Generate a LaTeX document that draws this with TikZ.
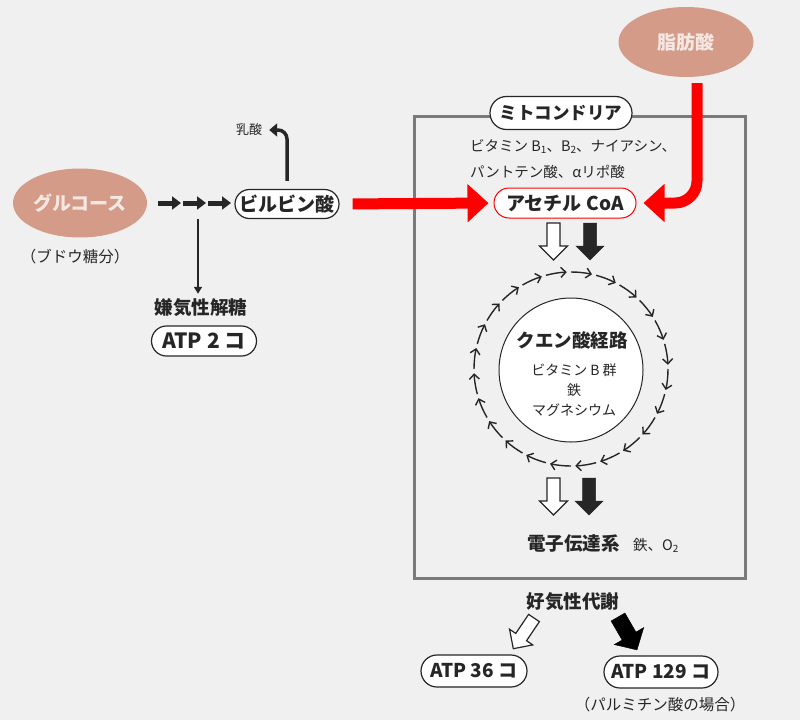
\documentclass[tikz,border=0pt]{standalone}
\usepackage{fontspec}
\setmainfont{Noto Sans CJK JP}
\usetikzlibrary{arrows.meta,shapes.geometric,shapes.misc,calc}
\definecolor{bg}{HTML}{F0F0F0}
\definecolor{salmon}{HTML}{D49B89}
\definecolor{blobtext}{HTML}{F5E8E2}
\definecolor{dark}{HTML}{262626}
\definecolor{boxgray}{HTML}{7A7A7A}
\definecolor{ared}{HTML}{FF0000}
\tikzset{
  small/.style={font=\fontsize{14.5}{16}\selectfont, text=dark, inner sep=0pt},
  boldtxt/.style={font=\bfseries\fontsize{18.5}{20}\selectfont, text=dark, inner sep=0pt},
  blob/.style={ellipse, fill=salmon, text=blobtext, font=\bfseries\fontsize{19}{21}\selectfont, inner sep=0pt},
  pill/.style={rounded rectangle, draw=dark, line width=1.2pt, fill=white, text=dark,
    font=\bfseries\fontsize{18}{20}\selectfont, inner sep=0pt},
  chainarr/.style={draw=dark, line width=5pt, -{Triangle[length=9pt,width=13pt]}},
  thinarr/.style={draw=dark, line width=1.8pt, -{Triangle[length=7pt,width=8pt]}},
  lacarr/.style={draw=dark, line width=3.5pt, -{Triangle[length=8pt,width=13pt]}},
  redarr/.style={draw=ared, line width=11pt, -{Triangle[length=21pt,width=37pt]}},
  cycarr/.style={draw=dark, line width=1.4pt, -{Straight Barb[length=5pt,width=10pt]}},
  blockarrow/.pic={\path[pic actions] (-6.5,0)--(6.5,0)--(6.5,23)--(14,23)--(0,37)--(-14,23)--(-6.5,23)--cycle;},
  bigblockarrow/.pic={\path[pic actions] (-8,0)--(8,0)--(8,22)--(17,22)--(0,38)--(-17,22)--(-8,22)--cycle;},
  whiteblk/.style={draw=dark, fill=white, line width=1.2pt},
  blackblk/.style={draw=dark, fill=dark, line width=0.5pt},
}
\begin{document}
\begin{tikzpicture}[x=1pt,y=-1pt]
\fill[bg] (0,0) rectangle (800,720);
\useasboundingbox (0,0) rectangle (800,720);

% left part
\node[blob, minimum width=134pt, minimum height=69pt] (glu) at (80,203) {グルコース};
\node[small, font=\fontsize{15.5}{17}\selectfont] (glusub) at (75,257) {（ブドウ糖分）};
\node[pill, minimum width=104pt, minimum height=29pt, font=\bfseries\fontsize{19}{21}\selectfont] (pyr) at (287,204) {ビルビン酸};
\node[boldtxt] (anaer) at (201,308) {嫌気性解糖};
\node[pill, minimum width=105pt, minimum height=30pt, font=\bfseries\fontsize{21}{23}\selectfont] (atp2) at (204,341) {ATP 2 コ};
\node[small, font=\fontsize{13}{15}\selectfont] (lac) at (249,130) {乳酸};

\coordinate (a1s) at (158,203); \coordinate (a1e) at (181,203);
\coordinate (a2s) at (183,203); \coordinate (a2e) at (206,203);
\coordinate (a3s) at (208,203); \coordinate (a3e) at (231,203);
\draw[chainarr] (a1s) -- (a1e);
\draw[chainarr] (a2s) -- (a2e);
\draw[chainarr] (a3s) -- (a3e);
\coordinate (dtop) at (198,219);
\draw[thinarr, shorten >=5pt] (dtop) -- (dtop |- anaer.north);
\draw[lacarr, rounded corners=9pt, shorten <=8pt, shorten >=7pt] (pyr.north) |- (lac.east);

% fatty acid
\node[blob, minimum width=135pt, minimum height=70pt, font=\bfseries\fontsize{19}{21}\selectfont] (fa) at (686,42) {脂肪酸};

% mitochondria
\node[draw=boxgray, line width=3pt, minimum width=331pt, minimum height=462pt, inner sep=0pt] (mito) at (579.5,347) {};
\node[pill, minimum width=142pt, minimum height=33pt, font=\bfseries\fontsize{17.5}{20}\selectfont] (mitol) at (561,113) {ミトコンドリア};
\node[small, anchor=west] (vit) at (470,147) {ビタミン B\raisebox{-2pt}{\fontsize{10}{10}\selectfont 1}、B\raisebox{-2pt}{\fontsize{10}{10}\selectfont 2}、ナイアシン、};
\node[small, anchor=west] (vit2) at (470,172) {パントテン酸、αリポ酸};
\node[pill, draw=ared, line width=1pt, minimum width=142pt, minimum height=30pt, font=\bfseries\fontsize{19}{21}\selectfont] (acoa) at (565,203) {アセチル CoA};

\draw[redarr, shorten <=13pt, shorten >=5pt] (pyr.east) -- (acoa.west);
\coordinate (fastart) at (697,83);
\draw[redarr, rounded corners=22pt, shorten >=7pt] (fastart) |- (acoa.east);

\pic[whiteblk] at (553.5,223) {blockarrow};
\pic[blackblk] at (590,223) {blockarrow};

% citric acid cycle
\coordinate (cc) at (571,369);
\node[circle, draw=dark, fill=white, line width=1pt, minimum size=144pt, inner sep=0pt] (tca) at (571,370) {};
\foreach \i in {0,...,23} {
  \draw[cycarr] ($(cc)+({-90+15*\i}:97)$) arc[start angle={-90+15*\i}, end angle={-90+15*\i+12.5}, radius=97];
}
\node[boldtxt] (tcat) at (572,340) {クエン酸経路};
\node[small, align=center, font=\fontsize{14}{20}\selectfont] (tcav) at (574,390) {ビタミン B 群\\鉄\\マグネシウム};

\pic[whiteblk] at (553.5,478) {blockarrow};
\pic[blackblk] at (589,478) {blockarrow};

\node[boldtxt, anchor=west] (etc) at (527,543) {電子伝達系};
\node[small, anchor=west] (etcv) at (633,545) {鉄、O\raisebox{-2pt}{\fontsize{10}{10}\selectfont 2}};

% aerobic
\node[boldtxt] (aer) at (573,602) {好気性代謝};
\pic[whiteblk, rotate=-34] at (534,618) {blockarrow};
\pic[draw=black, fill=black, rotate=30] at (618,617) {bigblockarrow};

\node[pill, minimum width=106pt, minimum height=32pt, font=\bfseries\fontsize{19}{21}\selectfont] (atp36) at (474,671) {ATP 36 コ};
\node[pill, minimum width=114pt, minimum height=32pt, font=\bfseries\fontsize{19}{21}\selectfont] (atp129) at (661,672) {ATP 129 コ};
\node[small, font=\fontsize{15.5}{17}\selectfont] (palm) at (660,705) {（パルミチン酸の場合）};
\end{tikzpicture}
\end{document}
